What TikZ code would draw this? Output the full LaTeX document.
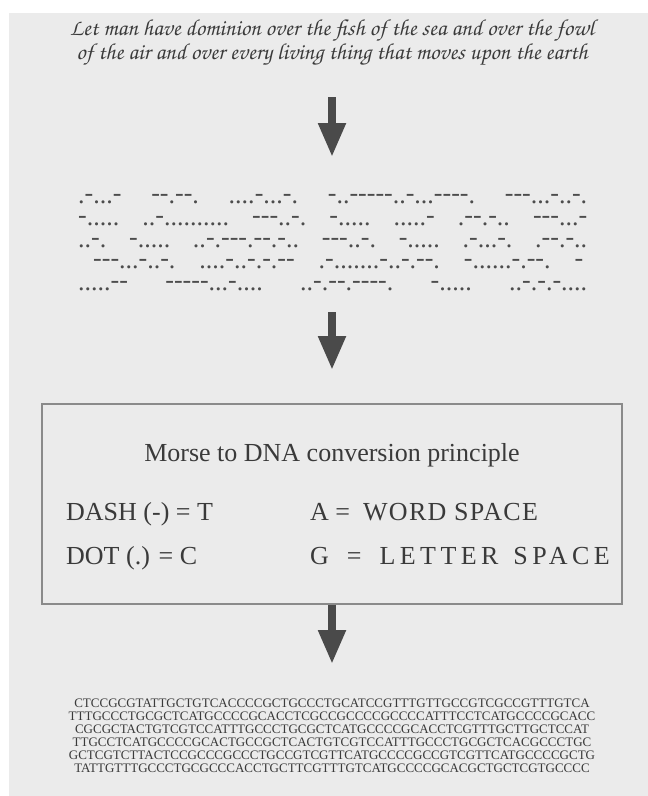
\documentclass[tikz,border=0pt]{standalone}
\usepackage{fontspec}
\setmainfont{Liberation Serif}
\newfontfamily\morsefont{Liberation Serif}
\usepackage[T1,TU]{fontenc}
\usepackage{xcolor}
\usetikzlibrary{arrows.meta}

\definecolor{bggray}{HTML}{EBEBEB}
\definecolor{inkgray}{HTML}{3A3A3A}
\definecolor{dotgray}{HTML}{4C4C4C}
\definecolor{arrowgray}{HTML}{4A4A4A}
\definecolor{framegray}{HTML}{8A8A8A}

\IfFileExists{t1pzc.fd}
  {\newcommand\chorus{\fontencoding{T1}\fontfamily{pzc}\fontseries{mb}\fontshape{it}\selectfont}}
  {\IfFileExists{t1qzc.fd}
    {\newcommand\chorus{\fontencoding{T1}\fontfamily{qzc}\fontseries{m}\fontshape{it}\selectfont}}
    {\newcommand\chorus{\itshape}}}
\makeatletter
\newcommand\mw[1]{\@tfor\mch:=#1\do{\if-\mch\raisebox{2pt}{-}\else\mch\fi\kern0pt}}
\makeatother
\newcommand\mrow[1]{\hbox to 509pt{#1}}
\newcommand\dnaline[1]{\hbox to 520pt{\hss#1\hss}}

\begin{document}
\begin{tikzpicture}[x=1pt, y=-1pt,
    bigarrow/.style={draw=arrowgray, line width=8pt, -{Triangle[length=34pt, width=26pt]}},
    txt/.style={text=inkgray, inner sep=0pt, font=\fontsize{26pt}{30pt}\selectfont}]
  \useasboundingbox (0,0) rectangle (648,796);
  \fill[bggray] (9,13) rectangle (648,796);

  % the verse
  \node[text=inkgray, align=center, inner sep=0pt,
        font=\chorus\fontsize{23pt}{18pt}\selectfont] (verse) at (332,43)
    {Let man have dominion over the fish of the sea and over the fowl\\
     of the air and over every living thing that moves upon the earth};

  % morse code
  \node[anchor=north west, inner sep=0pt, text=dotgray,
        font=\morsefont\fontsize{26pt}{21.7pt}\selectfont] (morse) at (78,194.5) {\vbox{%
    \mrow{\mw{.-...-}\hfill\mw{--.--.}\hfill\mw{....-...-.}\hfill\mw{-..-----..-...----.}\hfill\mw{---...-..-.}}
    \mrow{\mw{-.....}\hfill\mw{..-..........}\hfill\mw{---..-.}\hfill\mw{-.....}\hfill\mw{.....-}\hfill\mw{.--.-..}\hfill\mw{---...-}}
    \mrow{\mw{..-.}\hfill\mw{-.....}\hfill\mw{..-.---.--.-..}\hfill\mw{---..-.}\hfill\mw{-.....}\hfill\mw{.-...-.}\hfill\mw{.--.-..}}
    \mrow{\hspace{15pt}\mw{---...-..-.}\hfill\mw{....-..-.-.--}\hfill\mw{.-.......-..-.--.}\hfill\mw{-......-.--.}\hfill\mw{-}\hspace{4pt}}
    \mrow{\mw{.....--}\hfill\mw{-----...-....}\hfill\mw{..-.--.----.}\hfill\mw{-.....}\hfill\mw{..-.-.-....}}}};

  % conversion principle
  \node[draw=framegray, line width=1.3pt, minimum width=580pt, minimum height=200pt,
        inner sep=0pt] (rules) at (332,504) {};
  \node[txt, anchor=base] (title) at (332,461) {Morse to DNA conversion principle};
  \node[txt, anchor=base west] (dash) at (66,520) {DASH (-) = T};
  \node[txt, anchor=base west] (word) at (310,520) {A =\ \ {\addfontfeature{LetterSpace=5}WORD SPACE}};
  \node[txt, anchor=base west] (dot) at (66,564) {DOT (.) = C};
  \node[txt, anchor=base west] (letter) at (310,564)
    {G\hspace{18pt}=\hspace{18pt}{\addfontfeature{LetterSpace=17}LETTER\hspace{15pt}SPACE}};

  % DNA sequence
  \node[anchor=north, inner sep=0pt, text=inkgray,
        font=\fontsize{13pt}{13pt}\selectfont] (dna) at (332,698.5) {\vbox{%
    \dnaline{CTCCGCGTATTGCTGTCACCCCGCTGCCCTGCATCCGTTTGTTGCCGTCGCCGTTTGTCA}
    \dnaline{TTTGCCCTGCGCTCATGCCCCGCACCTCGCCGCCCCGCCCCATTTCCTCATGCCCCGCACC}
    \dnaline{CGCGCTACTGTCGTCCATTTGCCCTGCGCTCATGCCCCGCACCTCGTTTGCTTGCTCCAT}
    \dnaline{TTGCCTCATGCCCCGCACTGCCGCTCACTGTCGTCCATTTGCCCTGCGCTCACGCCCTGC}
    \dnaline{GCTCGTCTTACTCCGCCCGCCCTGCCGTCGTTCATGCCCCGCCGTCGTTCATGCCCCGCTG}
    \dnaline{TATTGTTTGCCCTGCGCCCACCTGCTTCGTTTGTCATGCCCCGCACGCTGCTCGTGCCCC}}};

  % arrows
  \coordinate (a1) at (332,97);
  \coordinate (b1) at (332,157);
  \coordinate (a2) at (332,312);
  \coordinate (b2) at (332,370);
  \coordinate (b3) at (332,664);
  \draw[bigarrow] (a1) -- (b1);
  \draw[bigarrow] (a2) -- (b2);
  \draw[bigarrow] (rules.south) -- (b3);
\end{tikzpicture}
\end{document}
